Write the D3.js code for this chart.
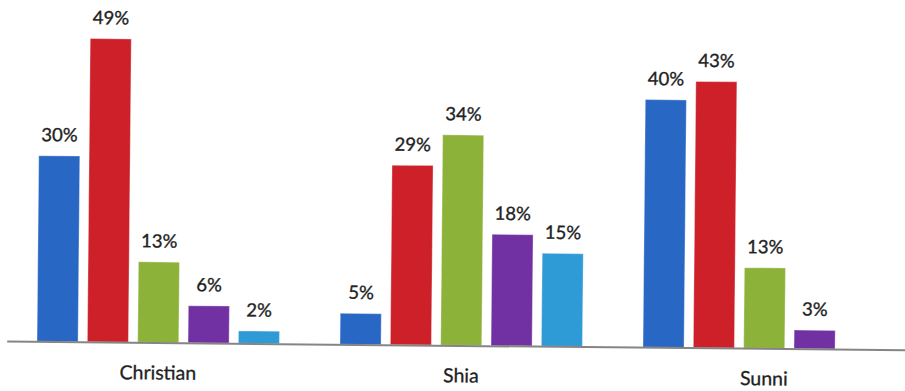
<!DOCTYPE html>
<html>
<head>
<meta charset="utf-8">
<script src="https://cdn.jsdelivr.net/npm/d3@7"></script>
<style>
  html, body { margin: 0; padding: 0; background: #fff; }
  svg { display: block; }
</style>
</head>
<body>
<svg id="chart" width="905" height="391"></svg>
<script>
// Share of each group, in percent, per series
const categories = ["Christian", "Shia", "Sunni"];
const seriesNames = ["Series 1", "Series 2", "Series 3", "Series 4", "Series 5"];
const christianValues = [30, 49, 13, 6, 2];
const shiaValues = [5, 29, 34, 18, 15];
const sunniValues = [40, 43, 13, 3, null];
const seriesColors = ["#2867c4", "#cd2029", "#8db23a", "#7131a2", "#2f9bd6"];

const valuesByCategory = {
  "Christian": christianValues,
  "Shia": shiaValues,
  "Sunni": sunniValues
};

const svg = d3.select("#chart");
const baseY = 342.5;

// The whole plot sits on a very slightly tilted baseline
const g = svg.append("g").attr("transform", `rotate(0.55, 158, ${baseY})`);

const x0 = d3.scaleBand()
  .domain(categories)
  .range([6.7, 915.7])
  .paddingInner(0.2)
  .paddingOuter(0.1);

const x1 = d3.scaleBand()
  .domain(seriesNames)
  .range([0, x0.bandwidth()])
  .paddingInner(0.185);

const y = d3.scaleLinear()
  .domain([0, 50])
  .range([baseY, baseY - 50 * 6.19]);

const color = d3.scaleOrdinal().domain(seriesNames).range(seriesColors);

const rows = categories.flatMap(c =>
  seriesNames.map((s, i) => ({ category: c, series: s, value: valuesByCategory[c][i] }))
    .filter(d => d.value != null)
);

// Bars
g.append("g").selectAll("rect")
  .data(rows)
  .join("rect")
  .attr("x", d => x0(d.category) + x1(d.series))
  .attr("y", d => y(d.value))
  .attr("width", x1.bandwidth())
  .attr("height", d => y(0) - y(d.value))
  .attr("fill", d => color(d.series))
  .attr("stroke", "rgba(255,255,255,0.35)")
  .attr("stroke-width", 1);

// Value labels
g.append("g").selectAll("text")
  .data(rows)
  .join("text")
  .attr("x", d => x0(d.category) + x1(d.series) + x1.bandwidth() / 2)
  .attr("y", d => y(d.value) - 14.5)
  .attr("text-anchor", "middle")
  .attr("font-family", "Lato, 'Open Sans', sans-serif")
  .attr("font-size", 18.5)
  .attr("fill", "#222")
  .attr("stroke", "#222")
  .attr("stroke-width", 0.35)
  .text(d => d.value + "%");

// Category axis
const axis = g.append("g")
  .attr("transform", `translate(0, ${baseY})`)
  .call(d3.axisBottom(x0).tickSize(0).tickPadding(0));

axis.select(".domain")
  .attr("stroke", "#858585")
  .attr("stroke-width", 2);

axis.selectAll(".tick text")
  .attr("dy", null)
  .attr("y", 37)
  .attr("font-family", "Lato, 'Open Sans', sans-serif")
  .attr("font-size", 19.5)
  .attr("fill", "#222")
  .attr("stroke", "#222")
  .attr("stroke-width", 0.3);
</script>
</body>
</html>
